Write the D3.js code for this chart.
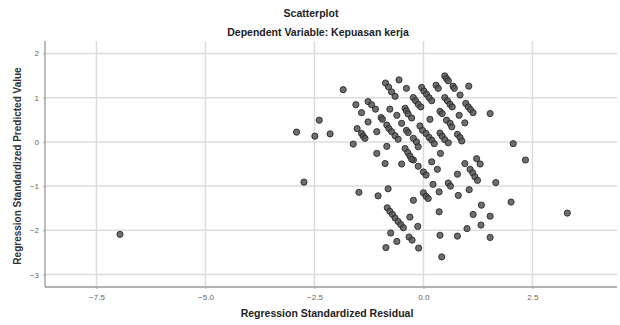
<!DOCTYPE html>
<html><head><meta charset="utf-8">
<script src="https://cdn.jsdelivr.net/npm/d3@7"></script>
<style>body{margin:0;background:#fff}svg{display:block}</style>
</head><body><svg id="c" width="620" height="325"></svg>
<script>
const title = "Scatterplot";
const subtitle = "Dependent Variable: Kepuasan kerja";
const xLabel = "Regression Standardized Residual";
const yLabel = "Regression Standardized Predicted Value";
const xTicks = [-7.5, -5.0, -2.5, 0.0, 2.5];
const yTicks = [2, 1, 0, -1, -2, -3];
const residual = [
 -6.96,-2.74,-2.91,-2.49,-2.14,-2.39,-1.84,2.34,2.01,3.30,2.06,1.53,1.66,1.53,1.53,1.33,1.32,1.14,1.00,1.05,0.80,1.04,0.84,1.22,1.30,0.95,
 0.97,1.03,1.08,1.14,1.07,1.13,1.18,1.24,0.78,0.57,0.62,0.36,0.22,0.32,0.00,0.06,0.19,-0.23,-0.50,-0.12,0.00,0.06,0.11,-0.23,0.36,-0.31,-0.13,0.38,0.78,-0.33,-0.26,-0.11,0.42,
 -1.48,-1.04,-0.81,-0.83,-0.77,-0.71,-0.65,-0.58,-0.52,-0.46,-0.75,-0.61,-0.86,-0.88,
 -1.55,-1.42,-1.27,-1.52,-1.42,-1.38,-1.34,-1.61,-1.27,-1.19,-1.10,-0.97,-0.94,-1.07,-1.07,-0.87,-0.80,-0.73,-0.65,-0.56,-0.39,-0.77,-0.61,
 -0.84,-0.79,-0.73,-0.65,-0.58,-0.84,-0.42,-0.39,-0.35,-0.27,-0.23,-0.18,-0.12,-0.06,-0.39,-0.35,-0.23,-0.16,-0.42,-0.36,-0.31,-0.27,-0.12,-0.50,
 0.49,0.53,0.57,0.29,0.34,0.68,0.71,-0.04,0.01,0.07,0.13,0.19,0.49,0.55,0.61,0.66,0.38,0.43,0.53,0.61,0.65,0.15,0.82,0.95,
 -0.08,-0.02,0.06,0.13,0.19,0.25,0.38,0.43,0.49,0.57,0.78,0.84,0.88,0.39
];
const predicted = [
 -2.09,-0.91,0.22,0.13,0.18,0.49,1.18,-0.41,-1.36,-1.61,-0.04,0.64,-0.92,-1.68,-2.16,-1.43,-1.88,-1.64,-1.96,-1.08,-1.21,1.26,1.06,-0.38,-0.50,-0.49,
 0.87,0.79,0.73,0.66,-0.62,-0.70,-0.79,-0.87,-0.73,-0.93,-1.00,-1.13,-0.96,-0.62,-0.68,-0.75,-0.45,-0.41,-0.50,-0.55,-1.15,-1.23,-1.28,-1.32,-1.58,-1.70,-1.91,-2.11,-2.13,-2.15,-2.22,-2.40,-2.60,
 -1.14,-1.22,-1.06,-1.49,-1.57,-1.64,-1.72,-1.80,-1.87,-1.94,-2.06,-2.25,-2.39,-0.49,
 0.84,0.66,0.45,0.30,0.19,0.13,0.08,-0.05,0.91,0.84,0.74,0.55,0.51,0.23,-0.26,1.33,1.24,1.13,1.03,1.40,1.21,0.74,0.60,
 0.38,0.30,0.23,0.14,0.06,-0.10,0.76,0.70,0.63,0.54,1.00,0.93,0.85,0.79,0.26,0.21,0.08,0.00,-0.15,-0.24,-0.32,-0.39,-0.11,0.42,
 1.49,1.43,1.38,1.28,1.21,1.26,1.21,1.23,1.15,1.08,1.00,0.93,1.00,0.93,0.85,0.79,0.69,0.64,0.49,0.42,0.34,0.51,0.60,0.43,
 0.36,0.26,0.19,0.10,0.04,-0.04,0.20,0.13,0.05,-0.02,0.17,0.10,0.02,-0.26
];
const points = residual.map((r,i)=>({x:r,y:predicted[i]}));

const svg = d3.select("#c");
const L=45, R=617, T=41, B=287;
const x = d3.scaleLinear().domain([-8.68, 4.44]).range([L, R]);
const y = d3.scaleLinear().domain([-3.28, 2.28]).range([B, T]);
const font = "'Liberation Sans', Arial, sans-serif";

svg.append("text").attr("x",311).attr("y",17).attr("text-anchor","middle")
  .attr("font-family",font).attr("font-weight","bold").attr("font-size",10.5).attr("fill","#222").text(title);
svg.append("text").attr("x",318).attr("y",36).attr("text-anchor","middle")
  .attr("font-family",font).attr("font-weight","bold").attr("font-size",10.5).attr("fill","#222").text(subtitle);

svg.append("g").selectAll("line").data(yTicks).join("line")
  .attr("x1",L).attr("x2",R).attr("y1",d=>y(d)).attr("y2",d=>y(d))
  .attr("stroke","#dcdcdc").attr("stroke-width",1.5);
svg.append("g").selectAll("line").data(xTicks).join("line")
  .attr("y1",T).attr("y2",B).attr("x1",d=>x(d)).attr("x2",d=>x(d))
  .attr("stroke","#dcdcdc").attr("stroke-width",1.5);

const xAxis = d3.axisBottom(x).tickValues(xTicks).tickFormat(d3.format(".1f")).tickSize(2).tickPadding(5);
const yAxis = d3.axisLeft(y).tickValues(yTicks).tickFormat(d3.format("d")).tickSize(2).tickPadding(4);
const gx = svg.append("g").attr("transform",`translate(0,${B})`).call(xAxis);
const gy = svg.append("g").attr("transform",`translate(${L},0)`).call(yAxis);
[gx,gy].forEach(g=>{
  g.select(".domain").attr("stroke","#999").attr("stroke-width",1.3);
  g.selectAll(".tick line").attr("stroke","#aaa");
  g.selectAll(".tick text").attr("fill","#666").attr("font-family",font).attr("font-size",8);
});
gx.select(".domain").attr("d",`M${L},0H${R}`);
gy.select(".domain").attr("d",`M0,${T}V${B}`);

svg.append("text").attr("x",327).attr("y",317).attr("text-anchor","middle")
  .attr("font-family",font).attr("font-weight","bold").attr("font-size",10.5).attr("fill","#222").text(xLabel);
svg.append("text").attr("transform","translate(21,166) rotate(-90)").attr("text-anchor","middle")
  .attr("font-family",font).attr("font-weight","bold").attr("font-size",10).attr("fill","#333").text(yLabel);

svg.append("g").selectAll("circle").data(points).join("circle")
  .attr("cx",d=>x(d.x)).attr("cy",d=>y(d.y)).attr("r",3.1)
  .attr("fill","#555").attr("fill-opacity",0.85).attr("stroke","#2a2a2a").attr("stroke-width",0.9);
</script></body></html>
